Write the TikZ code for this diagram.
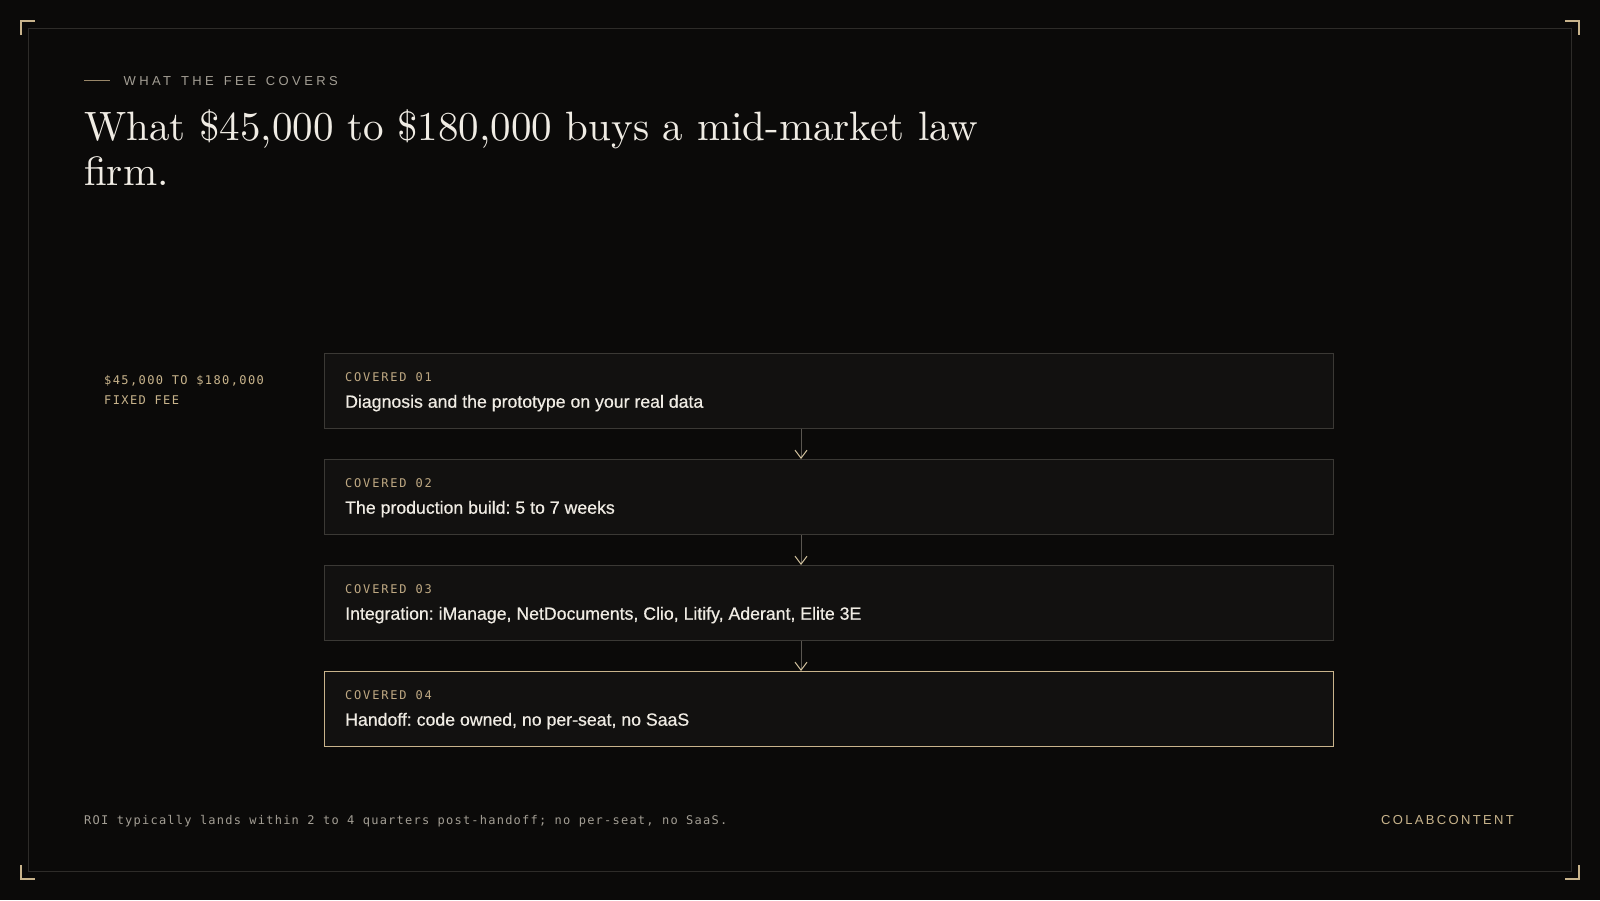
\documentclass[tikz,border=0pt]{standalone}
\usepackage{fontspec}
\usetikzlibrary{arrows.meta}
\newfontfamily\titlef{lmroman10-regular}[Extension=.otf]
\newfontfamily\sansf{Liberation Sans}[FakeBold=0.6]
\newfontfamily\sansws{Liberation Sans}[LetterSpace=26]
\newfontfamily\sanswb{Liberation Sans}[LetterSpace=18]
\newfontfamily\monol{DejaVu Sans Mono}[LetterSpace=15]
\newfontfamily\monom{DejaVu Sans Mono}[LetterSpace=11.7]
\newfontfamily\monof{DejaVu Sans Mono}[LetterSpace=10.2]
\frenchspacing
\definecolor{bg}{HTML}{0B0A09}
\definecolor{framec}{HTML}{2E2C29}
\definecolor{goldc}{HTML}{C9B48C}
\definecolor{goldd}{HTML}{BFA983}
\definecolor{boxfill}{HTML}{121110}
\definecolor{boxline}{HTML}{3B3935}
\definecolor{txtw}{HTML}{F0ECE4}
\definecolor{txtg}{HTML}{A39E94}
\definecolor{arrowc}{HTML}{5A5650}
\definecolor{chev}{HTML}{D4C4A0}
\tikzset{
  stepbox/.style={draw=boxline, fill=boxfill, line width=1pt, minimum width=1009pt, minimum height=75pt, anchor=north west, inner sep=0pt},
  lastbox/.style={stepbox, draw=goldc},
  tag/.style={anchor=base west, inner sep=0pt, text=goldd, font=\monol\fontsize{12}{14}\selectfont},
  body/.style={anchor=base west, inner sep=0pt, text=txtw, font=\sansf\fontsize{17.7}{20}\selectfont},
  conn/.style={draw=arrowc, line width=1pt, -{Straight Barb[color=chev, length=8pt, width=12pt, line width=1pt]}},
  corner/.style={draw=goldc, line width=1.2pt},
  ttl/.style={anchor=base west, inner sep=0pt, text=txtw, font=\titlef\fontsize{41}{45}\selectfont},
}
\begin{document}
\begin{tikzpicture}[x=1pt,y=-1pt]
\frenchspacing
\useasboundingbox (0,0) rectangle (1600,900);
\fill[bg] (0,0) rectangle (1600,900);
% frame
\draw[framec, line width=1pt] (28.5,28.5) rectangle (1571.5,871.5);
% corner brackets
\draw[corner] (21,35) -- (21,21) -- (35,21);
\draw[corner] (1565,21) -- (1579,21) -- (1579,35);
\draw[corner] (21,865) -- (21,879) -- (35,879);
\draw[corner] (1565,879) -- (1579,879) -- (1579,865);
% eyebrow
\coordinate (eyl) at (84,80.5);
\coordinate (eyr) at (110,80.5);
\draw[goldd!80!black, line width=1pt] (eyl) -- (eyr);
\node[anchor=base west, inner sep=0pt, text=txtg, font=\sansws\fontsize{13}{15}\selectfont] (eyebrow) at (123.5,85.3) {WHAT\hspace{10pt}THE\hspace{10pt}FEE\hspace{10pt}COVERS};
% title
\node[ttl] (title1) at (84,140) {What \$45,000 to \$180,000 buys a mid-market law};
\node[ttl] (title2) at (84,185) {firm.};
% left label
\node[anchor=base west, inner sep=0pt, text=goldc, font=\monom\fontsize{12}{14}\selectfont] (fee1) at (104,384.3) {\$45,000 TO \$180,000};
\node[anchor=base west, inner sep=0pt, text=goldc, font=\monom\fontsize{12}{14}\selectfont] (fee2) at (104,404.3) {FIXED FEE};
% boxes
\node[stepbox] (b1) at (324,353) {};
\node[stepbox] (b2) at (324,459) {};
\node[stepbox] (b3) at (324,565) {};
\node[lastbox] (b4) at (324,671) {};
\node[tag] (t1) at (345,381) {COVERED 01};
\node[body] (d1) at (345,407.7) {Diagnosis and the prototype on your real data};
\node[tag] (t2) at (345,487) {COVERED 02};
\node[body] (d2) at (345,513.7) {The production build: 5 to 7 weeks};
\node[tag] (t3) at (345,593) {COVERED 03};
\node[body] (d3) at (345,619.7) {Integration: iManage, NetDocuments, Clio, Litify, Aderant, Elite 3E};
\node[tag] (t4) at (345,699) {COVERED 04};
\node[body] (d4) at (345,725.7) {Handoff: code owned, no per-seat, no SaaS};
% connectors
\coordinate (ax) at (801,0);
\draw[conn] (b1.south -| ax) -- (b2.north -| ax);
\draw[conn] (b2.south -| ax) -- (b3.north -| ax);
\draw[conn] (b3.south -| ax) -- (b4.north -| ax);
% footer
\node[anchor=base west, inner sep=0pt, text=txtg, font=\monof\fontsize{12}{14}\selectfont] (foot) at (84,824) {ROI typically lands within 2 to 4 quarters post-handoff; no per-seat, no SaaS.};
\node[anchor=base east, inner sep=0pt, text=goldc, font=\sanswb\fontsize{13}{15}\selectfont] (brand) at (1514,824) {COLABCONTENT};
\end{tikzpicture}
\end{document}
